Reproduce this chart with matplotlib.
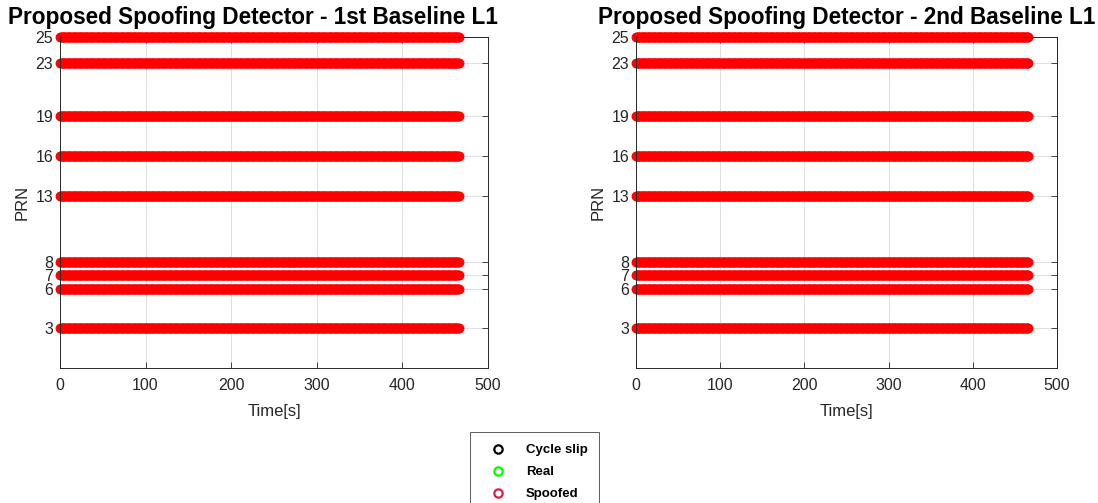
import matplotlib

matplotlib.use("Agg")

import matplotlib.pyplot as plt
import numpy as np
from matplotlib.lines import Line2D

plt.rcParams["font.family"] = ["Liberation Sans", "DejaVu Sans"]

PRNS = [3, 6, 7, 8, 13, 16, 19, 23, 25]
T_END = 466
TIME = np.arange(0, T_END + 1, 1)

TITLES = [
    "Proposed Spoofing Detector - 1st Baseline L1",
    "Proposed Spoofing Detector - 2nd Baseline L1",
]
X_TICKS = [0, 100, 200, 300, 400, 500]

LEGEND_LABELS = ["Cycle slip", "Real", "Spoofed"]
LEGEND_COLORS = ["#000000", "#00ff00", "#d4204c"]

fig = plt.figure(figsize=(10.98, 5.03), dpi=100)
positions = [
    [0.0546, 0.2684, 0.3898, 0.658],
    [0.5792, 0.2684, 0.3834, 0.658],
]
title_x = [0.451, 0.5]

for pos, title, tx in zip(positions, TITLES, title_x):
    ax = fig.add_axes(pos)
    for prn in PRNS:
        ax.plot(
            TIME,
            np.full(TIME.shape, prn),
            linestyle="none",
            marker="o",
            markersize=6,
            markerfacecolor="none",
            markeredgecolor="#ff0000",
            markeredgewidth=1.1,
            clip_on=False,
        )
    ax.set_xlim(0, 500)
    ax.set_ylim(0, 25)
    ax.set_xticks(X_TICKS)
    ax.set_yticks(PRNS)
    ax.tick_params(
        direction="in", top=True, right=True, labelsize=11.5,
        colors="#262626", length=4, width=0.6,
    )
    ax.tick_params(axis="x", pad=7)
    ax.tick_params(axis="y", pad=5)
    ax.grid(True, color="#e0e0e0", linewidth=0.7)
    ax.set_axisbelow(True)
    for sp in ax.spines.values():
        sp.set_color("#262626")
        sp.set_linewidth(0.7)
    ax.set_xlabel("Time[s]", fontsize=12, color="#262626", labelpad=8)
    ax.set_ylabel("PRN", fontsize=12, color="#262626", labelpad=4)
    ax.text(tx, 1.0 + 20 / 331, title, transform=ax.transAxes,
            ha="center", va="center", fontsize=16.3, fontweight="bold")

handles = [
    Line2D([], [], linestyle="none", marker="o", markersize=6,
           markerfacecolor="none", markeredgecolor=c, markeredgewidth=1.6)
    for c in LEGEND_COLORS
]
leg = fig.legend(
    handles, LEGEND_LABELS, loc="upper center", bbox_to_anchor=(0.4872, 0.141),
    frameon=True, fancybox=False, edgecolor="#333333",
    prop={"weight": "bold", "size": 9.5}, handlelength=2.4, borderpad=0.9,
    labelspacing=0.75, handletextpad=0.9, borderaxespad=0,
)
leg.get_frame().set_linewidth(0.7)

fig.savefig("out.png", dpi=100)
